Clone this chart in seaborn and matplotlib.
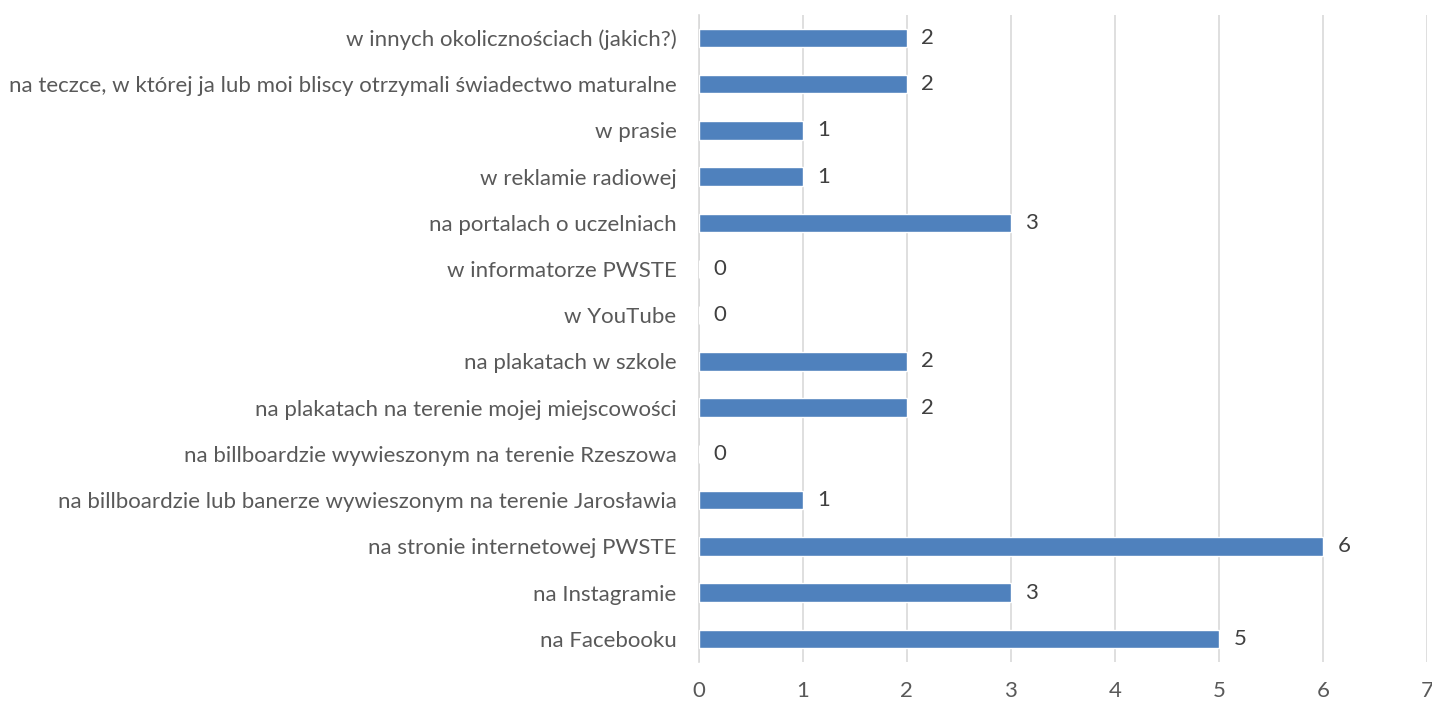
import matplotlib
matplotlib.use("Agg")
import matplotlib.pyplot as plt
import seaborn as sns
import pandas as pd

categories = [
    "w innych okolicznościach (jakich?)",
    "na teczce, w której ja lub moi bliscy otrzymali świadectwo maturalne",
    "w prasie",
    "w reklamie radiowej",
    "na portalach o uczelniach",
    "w informatorze PWSTE",
    "w YouTube",
    "na plakatach w szkole",
    "na plakatach na terenie mojej miejscowości",
    "na billboardzie wywieszonym na terenie Rzeszowa",
    "na billboardzie lub banerze wywieszonym na terenie Jarosławia",
    "na stronie internetowej PWSTE",
    "na Instagramie",
    "na Facebooku",
]
values = [2, 2, 1, 1, 3, 0, 0, 2, 2, 0, 1, 6, 3, 5]
x_ticks = [0, 1, 2, 3, 4, 5, 6, 7]

sns.set_theme(style="white")
plt.rcParams['font.family'] = ['Lato', 'DejaVu Sans']

df = pd.DataFrame({"cat": categories, "val": values})

fig = plt.figure(figsize=(14.32, 7.02), dpi=100)
ax = fig.add_axes([0.488, 0.057, 0.5085, 0.922])
text_color = "#595959"
fs = 16

sns.barplot(data=df, x="val", y="cat", orient="h", color="#4F81BD",
            saturation=1, width=0.4, ax=ax, zorder=3)

ax.set_xlim(0, 7)
ax.set_xticks(x_ticks)
ax.set_xticklabels([str(t) for t in x_ticks])
ax.grid(axis="x", color="#D9D9D9", linewidth=1.2, zorder=0)
ax.set_axisbelow(True)
for s in ["top", "right", "bottom"]:
    ax.spines[s].set_visible(False)
ax.spines["left"].set_color("#D9D9D9")
ax.spines["left"].set_linewidth(1.2)
ax.set_xlabel("")
ax.set_ylabel("")
ax.tick_params(axis="y", length=0, pad=16, labelsize=fs, labelcolor=text_color)
ax.tick_params(axis="x", length=0, pad=14, labelsize=fs, labelcolor=text_color)

for i, v in enumerate(values):
    ax.text(v + 0.14, i, str(v), va="center", ha="left", fontsize=fs, color="#404040")

fig.savefig("out.png", dpi=100)
